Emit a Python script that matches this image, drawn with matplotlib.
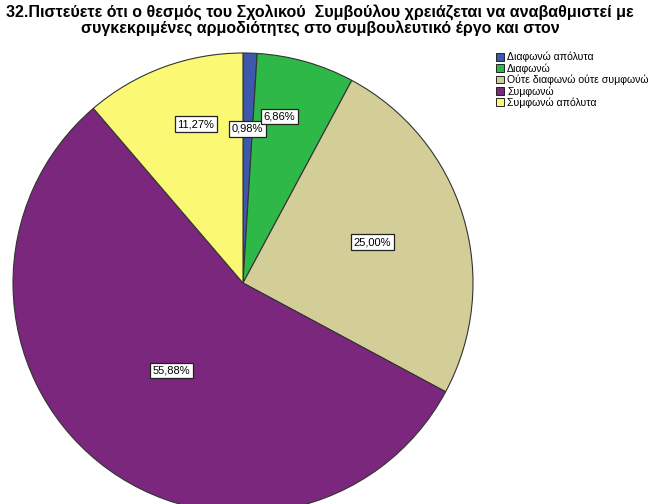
import numpy as np
import matplotlib
matplotlib.use("Agg")
import matplotlib.pyplot as plt
from matplotlib.patches import Patch

plt.rcParams["font.family"] = ["Liberation Sans", "DejaVu Sans"]

# answers to question 32 (counts, n=204)
categories = ["Διαφωνώ απόλυτα", "Διαφωνώ", "Ούτε διαφωνώ ούτε συμφωνώ",
              "Συμφωνώ", "Συμφωνώ απόλυτα"]
counts = [2, 14, 51, 114, 23]
colors = ["#3E58AC", "#2EB848", "#D3CE97", "#7B277D", "#FBF873"]

# where each percentage box sits (fraction of radius, angle nudge in deg)
label_dist = [0.67, 0.74, 0.59, 0.49, 0.72]
label_nudge = [0.0, 3.6, 0.7, -0.4, -3.8]

title = ("32.Πιστεύετε ότι ο θεσμός του Σχολικού  Συμβούλου χρειάζεται να αναβαθμιστεί με\n"
         "συγκεκριμένες αρμοδιότητες στο συμβουλευτικό έργο και στον")

W, H = 659, 504
fig = plt.figure(figsize=(W / 100, H / 100), dpi=100)

cx, cy, r = 243, 283, 230
ax = fig.add_axes([(cx - r) / W, (H - cy - r) / H, 2 * r / W, 2 * r / H])

wedges, _ = ax.pie(counts, colors=colors, startangle=90, counterclock=False,
                   radius=1, wedgeprops=dict(edgecolor="#333333", linewidth=0.8))
# pie() resets the limits, so set them afterwards
ax.set_xlim(-1, 1)
ax.set_ylim(-1, 1)
ax.set_aspect("equal")
ax.axis("off")

total = sum(counts)
for w, c, d, nd in zip(wedges, counts, label_dist, label_nudge):
    mid = np.deg2rad((w.theta1 + w.theta2) / 2 + nd)
    txt = f"{c / total * 100:.2f}%".replace(".", ",")
    ax.text(d * np.cos(mid), d * np.sin(mid), txt, ha="center", va="center",
            fontsize=8,
            bbox=dict(boxstyle="square,pad=0.25", fc="white", ec="#222222", lw=0.9))

fig.text(320 / W, 1 - 5 / H, title, ha="center", va="top", fontsize=11.5,
         fontweight="bold", linespacing=0.92)

handles = [Patch(facecolor=col, edgecolor="#222222", linewidth=0.7) for col in colors]
fig.legend(handles, categories, loc="upper left", bbox_to_anchor=(496 / W, 1 - 52 / H),
           frameon=False, fontsize=7.6, handlelength=0.75, handleheight=0.75,
           handletextpad=0.3, labelspacing=0.08, borderaxespad=0, borderpad=0)

fig.savefig("out.png", dpi=100)
